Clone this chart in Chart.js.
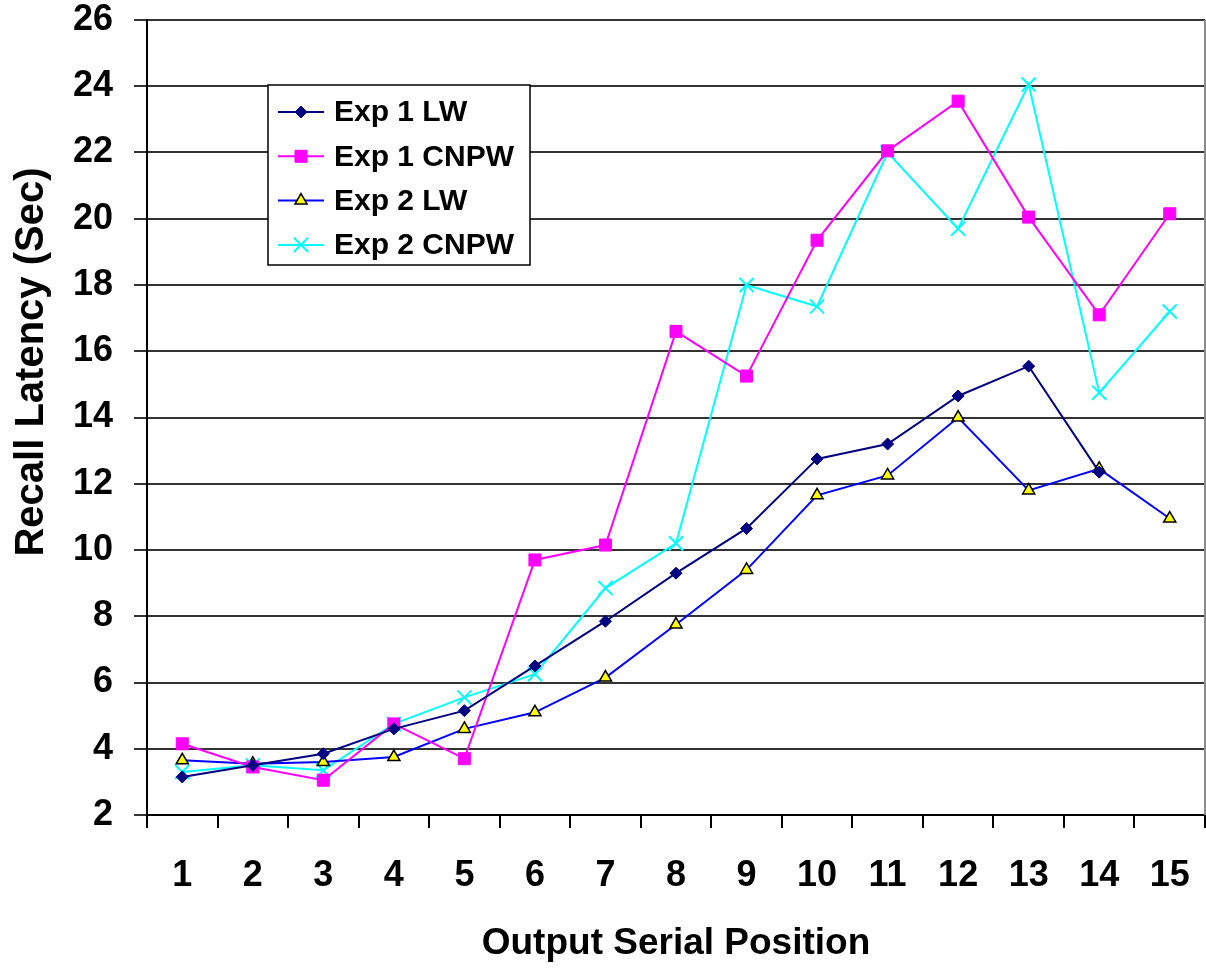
<!DOCTYPE html>
<html>
<head>
<meta charset="utf-8">
<title>Recall Latency by Output Serial Position</title>
<script src="https://cdn.jsdelivr.net/npm/chart.js@4"></script>
<style>
  html, body { margin: 0; padding: 0; background: #fff; }
  canvas { display: block; }
</style>
</head>
<body>
<canvas id="grafico-latencia" width="1206" height="972"></canvas>
<script>
// ---------------------------------------------------------
// Datos
// ---------------------------------------------------------
const posiciones = ['1', '2', '3', '4', '5', '6', '7', '8', '9', '10', '11', '12', '13', '14', '15'];

const exp1LW   = [3.15, 3.5, 3.85, 4.6, 5.15, 6.5, 7.85, 9.3, 10.65, 12.75, 13.2, 14.65, 15.55, 12.35, null];
const exp1CNPW = [4.15, 3.45, 3.05, 4.75, 3.7, 9.7, 10.15, 16.6, 15.25, 19.35, 22.05, 23.55, 20.05, 17.1, 20.15];
const exp2LW   = [3.65, 3.55, 3.6, 3.75, 4.6, 5.1, 6.15, 7.75, 9.4, 11.65, 12.25, 14.0, 11.8, 12.45, 10.95];
const exp2CNPW = [3.3, 3.5, 3.35, 4.75, 5.55, 6.25, 8.85, 10.2, 18.0, 17.35, 22.0, 19.7, 24.05, 14.75, 17.2];

const yMin = 2;
const yMax = 26;
const yPaso = 2;

const tituloY = 'Recall Latency (Sec)';
const tituloX = 'Output Serial Position';

const FUENTE = 'Arial, "Liberation Sans", sans-serif';

// ---------------------------------------------------------
// Leyenda en caja (línea + marcador, como en Excel) y título del eje Y
// ---------------------------------------------------------
const leyendaCaja = {
    id: 'leyendaCaja',
    afterDraw(chart) {
        const ctx = chart.ctx;
        const area = chart.chartArea;
        ctx.save();

        // borde derecho del área de trazado
        ctx.strokeStyle = '#8c8c8c';
        ctx.lineWidth = 2;
        ctx.beginPath();
        ctx.moveTo(area.right, area.top);
        ctx.lineTo(area.right, area.bottom);
        ctx.stroke();

        // título vertical (algo desplazado hacia arriba, como en el original)
        ctx.save();
        ctx.translate(32, 362);
        ctx.rotate(-Math.PI / 2);
        ctx.fillStyle = '#000';
        ctx.font = 'bold 40px ' + FUENTE;
        ctx.textAlign = 'center';
        ctx.textBaseline = 'middle';
        ctx.fillText(tituloY, 0, 0);
        ctx.restore();

        const caja = { x: 268, y: 85, w: 262, h: 180 };
        ctx.fillStyle = '#fff';
        ctx.fillRect(caja.x, caja.y, caja.w, caja.h);
        ctx.strokeStyle = '#000';
        ctx.lineWidth = 1.5;
        ctx.strokeRect(caja.x, caja.y, caja.w, caja.h);

        chart.data.datasets.forEach((ds, i) => {
            const y = 112 + i * 44.3;
            ctx.strokeStyle = ds.borderColor;
            ctx.lineWidth = 2;
            ctx.beginPath();
            ctx.moveTo(278, y);
            ctx.lineTo(324, y);
            ctx.stroke();

            ctx.fillStyle = ds.pointBackgroundColor;
            ctx.strokeStyle = ds.pointBorderColor;
            ctx.lineWidth = ds.pointBorderWidth;
            Chart.helpers.drawPoint(ctx, {
                pointStyle: ds.pointStyle,
                radius: ds.pointRadius,
                rotation: 0,
                borderWidth: ds.pointBorderWidth
            }, 301, y);

            ctx.fillStyle = '#000';
            ctx.font = 'bold 30px ' + FUENTE;
            ctx.textAlign = 'left';
            ctx.textBaseline = 'middle';
            ctx.fillText(ds.label, 334, y + 1);
        });
        ctx.restore();
    }
};

// ---------------------------------------------------------
// Gráfico
// ---------------------------------------------------------
const canvas = document.getElementById('grafico-latencia');
new Chart(canvas.getContext('2d'), {
    type: 'line',
    data: {
        labels: posiciones,
        datasets: [
            {
                label: 'Exp 1 LW', data: exp1LW,
                borderColor: '#000080', borderWidth: 2,
                pointStyle: 'rectRot', pointRadius: 6,
                pointBackgroundColor: '#000080', pointBorderColor: '#000080', pointBorderWidth: 1
            },
            {
                label: 'Exp 1 CNPW', data: exp1CNPW,
                borderColor: '#ff00ff', borderWidth: 2,
                pointStyle: 'rect', pointRadius: 8.5,
                pointBackgroundColor: '#ff00ff', pointBorderColor: '#ff00ff', pointBorderWidth: 1
            },
            {
                label: 'Exp 2 LW', data: exp2LW,
                borderColor: '#0000ff', borderWidth: 2,
                pointStyle: 'triangle', pointRadius: 7,
                pointBackgroundColor: '#ffff00', pointBorderColor: '#000', pointBorderWidth: 1.5
            },
            {
                label: 'Exp 2 CNPW', data: exp2CNPW,
                borderColor: '#00ffff', borderWidth: 2,
                pointStyle: 'crossRot', pointRadius: 10,
                pointBackgroundColor: '#00ffff', pointBorderColor: '#00ffff', pointBorderWidth: 2
            }
        ]
    },
    options: {
        responsive: false,
        animation: false,
        events: [],
        layout: { autoPadding: false, padding: { top: 20, right: 1, left: 0, bottom: 0 } },
        plugins: {
            legend: { display: false },
            tooltip: { enabled: false }
        },
        elements: { line: { tension: 0 } },
        scales: {
            x: {
                offset: true,
                grid: { offset: true, drawOnChartArea: false, drawTicks: true, tickLength: 13, color: '#000', lineWidth: 2 },
                border: { display: true, color: '#000', width: 2 },
                ticks: { color: '#000', padding: 30, maxRotation: 0, font: { family: FUENTE, size: 36, weight: 'bold', lineHeight: 1 } },
                title: { display: true, text: tituloX, color: '#000', padding: { top: 0, bottom: 6 }, font: { family: FUENTE, size: 37, weight: 'bold', lineHeight: 1.2 } },
                afterFit(scale) { scale.height = 157; scale.paddingLeft = 0; scale.paddingRight = 0; scale.paddingTop = 0; scale.paddingBottom = 0; }
            },
            y: {
                min: yMin, max: yMax,
                grid: { color: '#333', lineWidth: 2, drawTicks: true, tickLength: 13 },
                border: { display: true, color: '#000', width: 2 },
                ticks: { stepSize: yPaso, color: '#000', padding: 21, font: { family: FUENTE, size: 36, weight: 'bold', lineHeight: 1 } },
                title: { display: false },
                afterFit(scale) { scale.width = 147; scale.paddingTop = 0; scale.paddingBottom = 0; scale.paddingLeft = 0; scale.paddingRight = 0; }
            }
        }
    },
    plugins: [leyendaCaja]
});
</script>
</body>
</html>
